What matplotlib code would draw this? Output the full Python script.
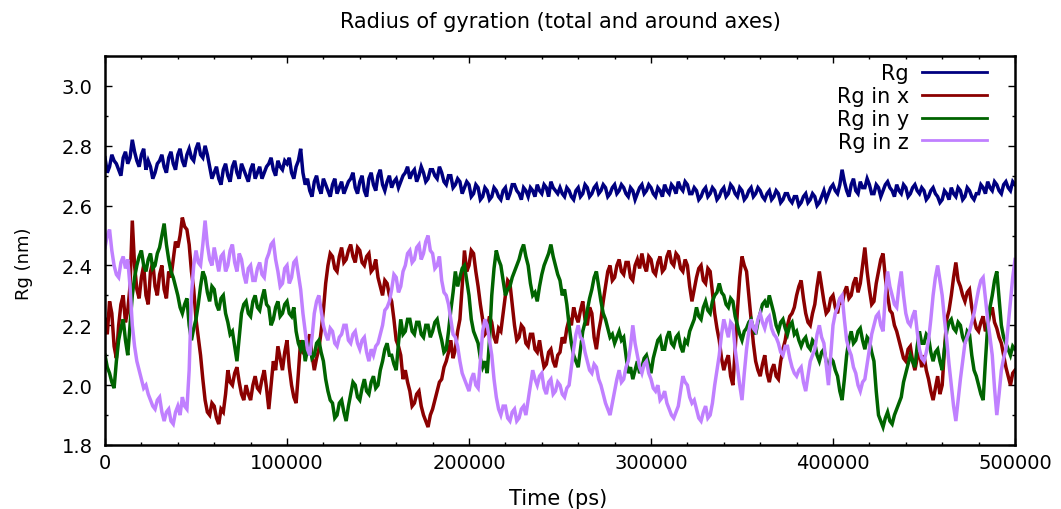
import numpy as np
import matplotlib
matplotlib.use("Agg")
import matplotlib.pyplot as plt
from matplotlib.ticker import MultipleLocator, FormatStrFormatter

# ---- data, one value every 1250 ps ----
time_ps = np.arange(0, 500001, 1250)

rg_total = [
    2.76,2.71,2.73,2.77,2.75,2.74,2.72,2.70,2.76,2.78,2.74,2.76,2.82,2.78,2.75,2.73,2.77,2.79,2.72,2.75,2.73,2.69,2.71,2.74,2.75,2.77,2.73,2.71,2.76,2.78,2.74,2.72,2.77,2.79,2.75,2.73,2.77,2.79,2.76,2.75,
    2.79,2.81,2.77,2.76,2.80,2.77,2.73,2.69,2.71,2.73,2.69,2.67,2.72,2.74,2.70,2.68,2.73,2.75,2.71,2.69,2.74,2.72,2.70,2.68,2.72,2.74,2.69,2.71,2.73,2.69,2.71,2.73,2.74,2.76,2.72,2.70,2.75,2.73,2.72,2.75,
    2.74,2.76,2.71,2.69,2.73,2.75,2.79,2.71,2.67,2.69,2.65,2.63,2.68,2.70,2.66,2.64,2.69,2.67,2.65,2.63,2.67,2.69,2.64,2.66,2.68,2.64,2.66,2.68,2.69,2.71,2.66,2.64,2.68,2.70,2.65,2.63,2.69,2.71,2.67,2.65,
    2.70,2.72,2.67,2.65,2.68,2.70,2.66,2.68,2.69,2.66,2.68,2.70,2.71,2.73,2.69,2.71,2.72,2.68,2.70,2.73,2.71,2.68,2.69,2.72,2.72,2.70,2.69,2.73,2.71,2.68,2.67,2.70,2.70,2.66,2.67,2.69,2.68,2.64,2.66,2.68,
    2.67,2.63,2.64,2.67,2.66,2.62,2.63,2.66,2.65,2.62,2.63,2.66,2.65,2.63,2.62,2.65,2.66,2.62,2.64,2.67,2.67,2.65,2.64,2.62,2.66,2.65,2.63,2.66,2.65,2.63,2.67,2.65,2.64,2.67,2.66,2.63,2.68,2.66,2.65,2.64,
    2.66,2.64,2.63,2.66,2.65,2.63,2.62,2.65,2.66,2.63,2.64,2.67,2.66,2.63,2.64,2.66,2.67,2.64,2.65,2.67,2.66,2.63,2.64,2.66,2.67,2.64,2.65,2.67,2.66,2.64,2.63,2.66,2.65,2.62,2.64,2.66,2.67,2.64,2.65,2.67,
    2.66,2.64,2.63,2.66,2.65,2.63,2.67,2.65,2.64,2.67,2.66,2.64,2.68,2.66,2.65,2.68,2.67,2.64,2.64,2.66,2.65,2.62,2.63,2.65,2.66,2.63,2.64,2.66,2.65,2.62,2.63,2.65,2.66,2.63,2.64,2.67,2.66,2.64,2.63,2.66,
    2.65,2.62,2.63,2.65,2.66,2.63,2.64,2.66,2.65,2.63,2.62,2.64,2.65,2.62,2.63,2.65,2.64,2.61,2.62,2.64,2.64,2.62,2.61,2.63,2.63,2.60,2.61,2.63,2.64,2.61,2.62,2.64,2.63,2.60,2.61,2.63,2.65,2.62,2.64,2.66,
    2.67,2.65,2.64,2.67,2.72,2.68,2.65,2.63,2.67,2.69,2.65,2.64,2.68,2.66,2.66,2.69,2.67,2.64,2.64,2.67,2.66,2.63,2.65,2.67,2.68,2.66,2.65,2.63,2.67,2.65,2.64,2.67,2.66,2.63,2.64,2.66,2.67,2.65,2.64,2.66,
    2.65,2.62,2.63,2.65,2.66,2.64,2.63,2.61,2.62,2.65,2.64,2.62,2.66,2.64,2.63,2.66,2.65,2.62,2.63,2.66,2.65,2.63,2.62,2.64,2.64,2.67,2.66,2.64,2.68,2.66,2.65,2.68,2.67,2.65,2.64,2.67,2.68,2.66,2.65,2.68,
    2.67,
]

rg_x = [
    2.22,2.17,2.28,2.24,2.13,2.09,2.20,2.27,2.30,2.21,2.25,2.33,2.55,2.40,2.32,2.29,2.36,2.40,2.30,2.27,2.38,2.41,2.33,2.30,2.37,2.40,2.32,2.29,2.38,2.36,2.42,2.48,2.46,2.50,2.56,2.53,2.52,2.47,2.38,2.32,
    2.22,2.16,2.10,2.02,1.95,1.91,1.90,1.94,1.93,1.89,1.87,1.92,1.91,1.97,2.05,2.01,2.00,2.04,2.06,2.01,1.97,1.95,2.00,1.97,1.95,2.00,2.03,1.99,1.98,2.02,2.05,1.99,1.92,2.00,2.08,2.05,2.13,2.09,2.05,2.11,
    2.15,2.06,2.00,1.96,1.94,2.04,2.15,2.11,2.10,2.14,2.17,2.10,2.05,2.09,2.12,2.18,2.25,2.34,2.40,2.44,2.43,2.39,2.38,2.43,2.46,2.41,2.42,2.45,2.47,2.43,2.41,2.46,2.45,2.41,2.40,2.43,2.44,2.38,2.39,2.42,
    2.36,2.33,2.30,2.35,2.34,2.30,2.28,2.22,2.15,2.13,2.10,2.02,2.05,2.01,1.98,1.93,1.94,1.97,1.98,1.93,1.90,1.88,1.86,1.90,1.92,1.95,1.98,2.01,2.02,2.06,2.08,2.11,2.15,2.09,2.12,2.18,2.22,2.33,2.45,2.38,
    2.40,2.45,2.44,2.38,2.33,2.27,2.22,2.17,2.18,2.23,2.21,2.16,2.14,2.19,2.18,2.24,2.30,2.35,2.34,2.27,2.20,2.15,2.16,2.20,2.19,2.14,2.13,2.17,2.17,2.12,2.11,2.15,2.10,2.06,2.07,2.11,2.12,2.08,2.06,2.10,
    2.11,2.16,2.14,2.19,2.22,2.20,2.26,2.23,2.21,2.25,2.28,2.22,2.20,2.26,2.24,2.16,2.12,2.18,2.22,2.28,2.33,2.38,2.40,2.35,2.36,2.40,2.42,2.38,2.37,2.41,2.41,2.36,2.35,2.40,2.42,2.39,2.44,2.40,2.38,2.43,
    2.42,2.38,2.37,2.41,2.43,2.38,2.39,2.43,2.45,2.41,2.40,2.44,2.43,2.39,2.38,2.42,2.40,2.33,2.28,2.32,2.36,2.39,2.40,2.35,2.34,2.39,2.38,2.31,2.24,2.19,2.15,2.09,2.05,2.08,2.10,2.03,2.00,2.12,2.25,2.36,
    2.43,2.40,2.38,2.30,2.22,2.14,2.08,2.05,2.03,2.07,2.10,2.04,2.01,2.05,2.07,2.03,2.02,2.08,2.12,2.15,2.20,2.23,2.24,2.26,2.30,2.33,2.35,2.29,2.24,2.21,2.20,2.24,2.27,2.33,2.38,2.33,2.28,2.24,2.25,2.29,
    2.30,2.26,2.24,2.29,2.27,2.31,2.33,2.29,2.30,2.34,2.36,2.31,2.34,2.40,2.46,2.38,2.32,2.27,2.28,2.34,2.38,2.42,2.44,2.36,2.30,2.25,2.24,2.20,2.18,2.15,2.12,2.09,2.08,2.12,2.13,2.08,2.05,2.09,2.11,2.06,
    2.10,2.05,2.02,1.98,1.95,1.99,2.03,1.97,2.00,2.12,2.22,2.25,2.30,2.36,2.41,2.35,2.33,2.30,2.28,2.31,2.32,2.26,2.22,2.19,2.18,2.21,2.23,2.18,2.20,2.24,2.26,2.21,2.19,2.16,2.14,2.10,2.06,2.03,2.00,2.04,
    2.05,
]

rg_y = [
    2.10,2.06,2.04,2.01,1.99,2.08,2.15,2.19,2.22,2.15,2.10,2.20,2.30,2.36,2.40,2.43,2.45,2.40,2.38,2.42,2.44,2.39,2.40,2.44,2.46,2.50,2.54,2.47,2.42,2.38,2.36,2.33,2.30,2.26,2.24,2.27,2.29,2.20,2.15,2.19,
    2.22,2.27,2.33,2.38,2.36,2.31,2.28,2.33,2.32,2.27,2.25,2.29,2.30,2.24,2.21,2.17,2.18,2.13,2.08,2.16,2.24,2.27,2.28,2.24,2.23,2.28,2.30,2.26,2.25,2.29,2.32,2.27,2.26,2.20,2.22,2.26,2.28,2.23,2.24,2.27,
    2.28,2.24,2.23,2.26,2.18,2.14,2.12,2.15,2.08,2.12,2.14,2.09,2.10,2.14,2.15,2.11,2.08,2.02,1.98,1.95,1.94,1.89,1.90,1.94,1.95,1.91,1.88,1.93,1.97,2.01,2.00,1.96,1.95,1.99,2.02,1.98,1.97,2.01,2.03,1.99,
    2.00,2.05,2.08,2.12,2.14,2.10,2.10,2.07,2.05,2.14,2.22,2.17,2.18,2.22,2.22,2.18,2.17,2.21,2.21,2.17,2.16,2.20,2.20,2.16,2.18,2.21,2.22,2.18,2.15,2.11,2.12,2.18,2.25,2.31,2.38,2.33,2.36,2.39,2.40,2.35,
    2.30,2.22,2.18,2.16,2.14,2.09,2.06,2.08,2.04,2.15,2.30,2.39,2.45,2.42,2.40,2.35,2.30,2.32,2.33,2.36,2.38,2.40,2.42,2.45,2.47,2.43,2.40,2.34,2.30,2.31,2.28,2.33,2.37,2.40,2.42,2.44,2.47,2.43,2.40,2.37,
    2.35,2.30,2.32,2.27,2.20,2.14,2.10,2.08,2.06,2.12,2.18,2.21,2.25,2.29,2.32,2.36,2.38,2.33,2.28,2.24,2.22,2.19,2.16,2.17,2.14,2.16,2.18,2.15,2.16,2.10,2.04,2.06,2.02,2.05,2.08,2.04,2.06,2.09,2.10,2.07,
    2.04,2.09,2.12,2.15,2.16,2.12,2.12,2.16,2.18,2.14,2.13,2.16,2.17,2.13,2.11,2.15,2.14,2.18,2.20,2.22,2.26,2.23,2.22,2.26,2.28,2.25,2.24,2.28,2.30,2.31,2.34,2.31,2.30,2.27,2.26,2.29,2.28,2.23,2.20,2.17,
    2.15,2.18,2.19,2.21,2.22,2.19,2.17,2.21,2.24,2.27,2.28,2.26,2.30,2.27,2.24,2.20,2.18,2.21,2.22,2.19,2.17,2.20,2.21,2.17,2.18,2.15,2.13,2.15,2.16,2.13,2.12,2.15,2.14,2.10,2.08,2.11,2.12,2.08,2.06,2.09,
    2.08,2.05,2.03,1.98,1.95,2.02,2.10,2.15,2.18,2.14,2.15,2.18,2.19,2.15,2.12,2.16,2.15,2.11,2.08,1.98,1.90,1.88,1.86,1.89,1.91,1.88,1.87,1.90,1.92,1.94,1.96,2.01,2.04,2.07,2.10,2.08,2.06,2.13,2.18,2.14,
    2.14,2.17,2.16,2.11,2.08,2.11,2.12,2.08,2.05,2.12,2.18,2.21,2.22,2.19,2.18,2.21,2.20,2.16,2.14,2.18,2.17,2.10,2.05,2.03,2.00,1.97,1.95,2.08,2.20,2.26,2.30,2.35,2.38,2.29,2.20,2.16,2.14,2.12,2.10,2.13,
    2.12,
]

rg_z = [
    2.46,2.50,2.52,2.45,2.40,2.37,2.36,2.41,2.43,2.39,2.42,2.33,2.20,2.13,2.08,2.05,2.02,1.99,2.00,1.97,1.95,1.93,1.92,1.95,1.96,1.91,1.88,1.91,1.92,1.88,1.87,1.91,1.93,1.90,1.96,1.93,1.92,2.05,2.30,2.40,
    2.45,2.41,2.40,2.47,2.55,2.47,2.42,2.40,2.46,2.42,2.38,2.43,2.44,2.38,2.40,2.45,2.47,2.41,2.38,2.44,2.42,2.37,2.34,2.39,2.40,2.35,2.35,2.39,2.41,2.37,2.36,2.42,2.44,2.47,2.48,2.42,2.38,2.33,2.34,2.39,
    2.40,2.34,2.36,2.41,2.42,2.37,2.32,2.24,2.18,2.12,2.10,2.16,2.24,2.28,2.30,2.25,2.20,2.17,2.15,2.19,2.18,2.14,2.13,2.16,2.17,2.20,2.20,2.15,2.14,2.17,2.18,2.14,2.12,2.15,2.16,2.11,2.08,2.12,2.10,2.13,
    2.14,2.17,2.20,2.25,2.26,2.28,2.32,2.37,2.36,2.31,2.33,2.38,2.40,2.44,2.45,2.41,2.42,2.46,2.47,2.42,2.44,2.48,2.50,2.45,2.44,2.39,2.40,2.43,2.35,2.31,2.30,2.27,2.22,2.17,2.16,2.13,2.08,2.04,2.02,2.00,
    1.98,2.02,2.04,2.00,1.99,2.08,2.18,2.22,2.20,2.15,2.10,2.02,1.96,1.92,1.90,1.93,1.93,1.89,1.88,1.91,1.92,1.88,1.89,1.92,1.93,1.90,1.95,2.00,2.05,2.02,2.00,2.03,2.04,1.99,1.97,2.01,2.02,1.97,1.98,2.01,
    2.00,1.97,1.96,1.99,2.00,2.06,2.12,2.17,2.20,2.16,2.15,2.11,2.08,2.05,2.04,2.07,2.06,2.02,2.00,1.97,1.94,1.92,1.90,1.94,1.98,2.02,2.05,2.01,2.02,2.06,2.08,2.13,2.20,2.14,2.10,2.06,2.04,2.07,2.08,2.04,
    2.02,1.99,1.98,2.00,1.95,1.96,1.98,1.94,1.92,1.90,1.89,1.91,1.93,1.98,2.03,2.01,2.00,1.96,1.94,1.95,1.92,1.89,1.88,1.91,1.93,1.89,1.90,1.94,2.00,2.05,2.10,2.17,2.22,2.19,2.16,2.21,2.20,2.12,2.06,2.00,
    1.95,2.04,2.12,2.18,2.22,2.19,2.18,2.22,2.24,2.21,2.19,2.22,2.23,2.19,2.17,2.16,2.14,2.11,2.10,2.13,2.13,2.09,2.06,2.04,2.03,2.05,2.06,2.01,1.98,2.03,2.08,2.10,2.12,2.17,2.20,2.16,2.14,2.07,2.00,2.10,
    2.20,2.24,2.26,2.29,2.30,2.22,2.15,2.12,2.10,2.06,2.04,2.00,1.98,2.01,2.02,2.07,2.12,2.17,2.20,2.23,2.24,2.20,2.18,2.30,2.38,2.33,2.30,2.27,2.26,2.33,2.38,2.30,2.24,2.21,2.20,2.23,2.25,2.18,2.12,2.09,
    2.08,2.11,2.15,2.22,2.30,2.36,2.40,2.35,2.30,2.22,2.15,2.07,2.00,1.93,1.88,1.95,2.02,2.08,2.14,2.16,2.18,2.21,2.24,2.28,2.32,2.35,2.36,2.29,2.22,2.16,2.10,1.99,1.90,1.97,2.05,2.09,2.12,2.20,2.28,2.36,
    2.42,
]

series_labels = ["Rg", "Rg in x", "Rg in y", "Rg in z"]
series_colors = ["#000080", "#8b0000", "#006400", "#c080ff"]

title_text = "Radius of gyration (total and around axes)"
xlabel_text = "Time (ps)"
ylabel_text = "Rg (nm)"

# ---- figure ----
plt.rcParams["font.family"] = ["DejaVu Sans"]
W, H = 1061, 510
fig = plt.figure(figsize=(W / 100, H / 100), dpi=100)
ax = fig.add_axes([105 / W, 1 - 446 / H, 910 / W, (446 - 57) / H])

for vals, lab, col in zip([rg_total, rg_x, rg_y, rg_z], series_labels, series_colors):
    n = min(len(time_ps), len(vals))
    ax.plot(time_ps[:n], vals[:n], color=col, lw=2.5, label=lab, solid_joinstyle="miter")

ax.set_xlim(0, 500000)
ax.set_ylim(1.8, 3.1)
ax.xaxis.set_major_locator(MultipleLocator(100000))
ax.xaxis.set_minor_locator(MultipleLocator(20000))
ax.yaxis.set_major_locator(MultipleLocator(0.2))
ax.yaxis.set_minor_locator(MultipleLocator(0.1))
ax.yaxis.set_major_formatter(FormatStrFormatter("%.1f"))
ax.xaxis.set_major_formatter(FormatStrFormatter("%d"))

ax.tick_params(which="both", direction="in", top=True, right=True, width=1.0)
ax.tick_params(which="major", length=5, labelsize=14)
ax.tick_params(axis="y", which="major", pad=9)
ax.tick_params(axis="x", which="major", pad=6)
ax.tick_params(which="minor", length=2.5)
for sp in ax.spines.values():
    sp.set_linewidth(1.8)

leg = ax.legend(loc="upper right", bbox_to_anchor=((987 - 105) / 910, (446 - 64) / 389),
                frameon=False, markerfirst=False, fontsize=15, handlelength=3.1,
                handletextpad=0.65, labelspacing=0.14, borderaxespad=0.0, borderpad=0.0)
for line in leg.get_lines():
    line.set_linewidth(2.0)

fig.text(560 / W, 1 - 22 / H, title_text, ha="center", va="center", fontsize=15)
fig.text(558 / W, 1 - 499 / H, xlabel_text, ha="center", va="center", fontsize=15)
fig.text(24 / W, 1 - 264 / H, ylabel_text, ha="center", va="center", rotation=90, fontsize=13)

fig.savefig("out.png", dpi=100)
